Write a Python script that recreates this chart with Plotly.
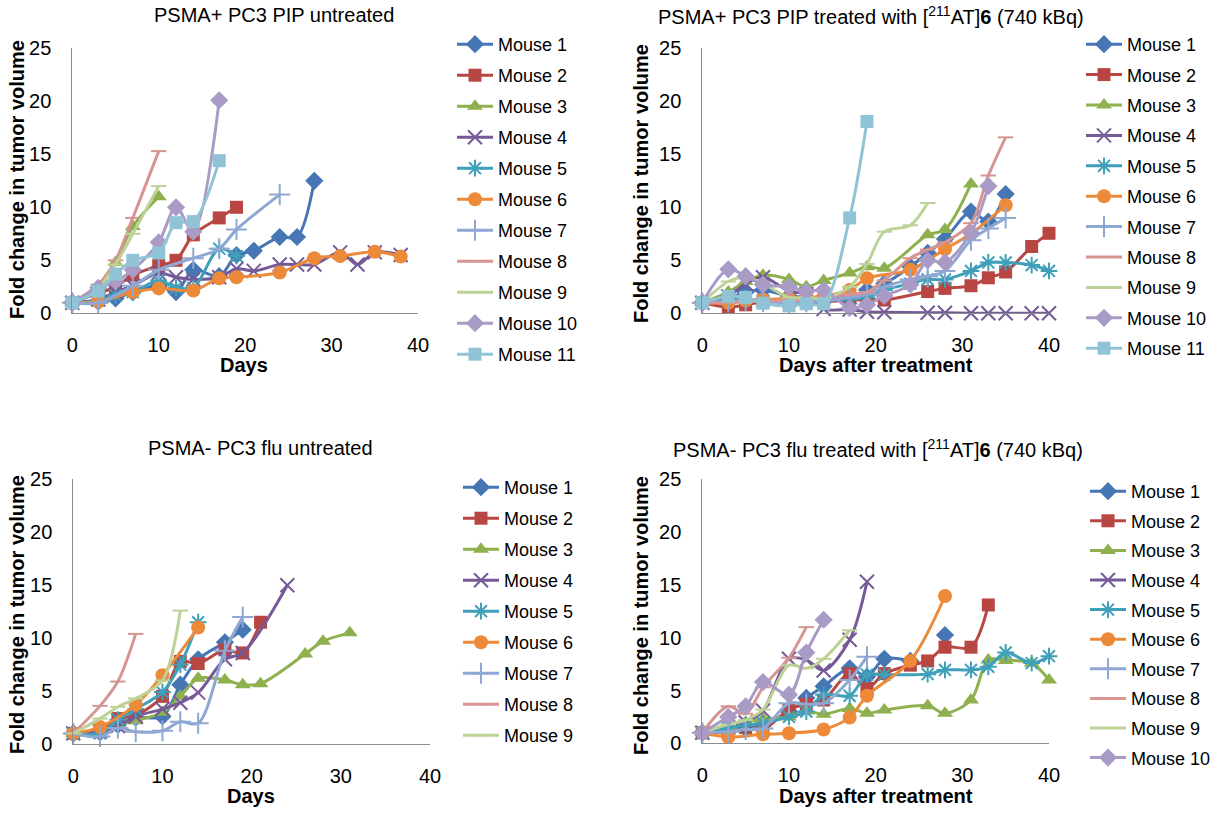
import plotly.graph_objects as go

# ---------------- data ----------------
MICE = ["Mouse 1", "Mouse 2", "Mouse 3", "Mouse 4", "Mouse 5", "Mouse 6",
        "Mouse 7", "Mouse 8", "Mouse 9", "Mouse 10", "Mouse 11"]

TITLES = ["PSMA+ PC3 PIP untreated",
          "PSMA+ PC3 PIP treated with [<sup>211</sup>AT]<b>6</b> (740 kBq)",
          "PSMA- PC3 flu untreated",
          "PSMA- PC3 flu treated with [<sup>211</sup>AT]<b>6</b> (740 kBq)"]
XTITLES = ["Days", "Days after treatment", "Days", "Days after treatment"]
YTITLE = "Fold change in tumor volume"
X_TICKS = [0, 10, 20, 30, 40]
Y_TICKS = [0, 5, 10, 15, 20, 25]

# Panel 1: PSMA+ PC3 PIP untreated
P1_DAYS = {
    "Mouse 1": [0, 3, 5, 7, 10, 12, 14, 17, 19, 21, 24, 26, 28],
    "Mouse 2": [0, 3, 5, 7, 10, 12, 14, 17, 19],
    "Mouse 3": [0, 3, 5, 7, 10],
    "Mouse 4": [0, 3, 5, 7, 10, 12, 14, 17, 19, 21, 24, 26, 28, 31, 33, 35, 38],
    "Mouse 5": [0, 3, 5, 7, 10, 12, 14, 17, 19],
    "Mouse 6": [0, 3, 7, 10, 14, 17, 19, 24, 28, 31, 35, 38],
    "Mouse 7": [0, 3, 7, 10, 14, 17, 19, 24],
    "Mouse 8": [0, 3, 5, 7, 10],
    "Mouse 9": [0, 3, 5, 7, 10],
    "Mouse 10": [0, 3, 5, 7, 10, 12, 14, 17],
    "Mouse 11": [0, 3, 5, 7, 10, 12, 14, 17],
}
P1_VALS = {
    "Mouse 1": [1, 1.1, 1.4, 2.0, 2.6, 2.0, 4.1, 3.5, 5.5, 5.9, 7.2, 7.2, 12.5],
    "Mouse 2": [1, 1.9, 2.5, 3.6, 4.5, 5.0, 7.4, 9.0, 10.0],
    "Mouse 3": [1, 2.3, 4.8, 8.2, 11.0],
    "Mouse 4": [1, 1.3, 2.0, 2.6, 3.8, 3.4, 3.2, 3.4, 4.2, 4.0, 4.6, 4.6, 4.6, 5.75, 4.6, 5.75, 5.5],
    "Mouse 5": [1, 1.2, 1.7, 2.0, 3.1, 2.4, 2.4, 6.1, 5.4],
    "Mouse 6": [1, 1.1, 2.0, 2.35, 2.15, 3.3, 3.4, 3.85, 5.2, 5.4, 5.8, 5.35],
    "Mouse 7": [1, 1.0, 2.6, 4.1, 5.2, 6.1, 7.9, 11.2],
    "Mouse 8": [1, 2.7, 5.0, 9.0, 15.3],
    "Mouse 9": [1, 2.4, 4.6, 7.5, 12.0],
    "Mouse 10": [1, 2.4, 3.0, 4.1, 6.7, 10.0, 7.7, 20.1],
    "Mouse 11": [1, 2.1, 3.7, 5.0, 5.7, 8.55, 8.65, 14.4],
}

# Panel 2: PSMA+ PC3 PIP treated
P2_DAYS = {
    "Mouse 1": [0, 3, 5, 7, 10, 12, 14, 17, 19, 21, 24, 26, 28, 31, 33, 35],
    "Mouse 2": [0, 3, 5, 7, 10, 12, 14, 17, 19, 21, 26, 28, 31, 33, 35, 38, 40],
    "Mouse 3": [0, 3, 5, 7, 10, 12, 14, 17, 19, 21, 26, 28, 31],
    "Mouse 4": [0, 3, 5, 7, 10, 12, 14, 17, 19, 21, 26, 28, 31, 33, 35, 38, 40],
    "Mouse 5": [0, 3, 5, 7, 10, 12, 14, 17, 19, 21, 24, 26, 28, 31, 33, 35, 38, 40],
    "Mouse 6": [0, 3, 5, 7, 10, 12, 14, 17, 19, 24, 28, 31, 35],
    "Mouse 7": [0, 3, 5, 7, 10, 12, 14, 17, 19, 21, 24, 26, 28, 31, 33, 35],
    "Mouse 8": [0, 3, 5, 7, 10, 12, 14, 17, 19, 21, 24, 26, 28, 31, 33, 35],
    "Mouse 9": [0, 3, 5, 7, 10, 12, 14, 17, 19, 21, 24, 26],
    "Mouse 10": [0, 3, 5, 7, 10, 12, 14, 17, 19, 21, 24, 26, 28, 31, 33],
    "Mouse 11": [0, 3, 5, 7, 10, 12, 14, 17, 19],
}
P2_VALS = {
    "Mouse 1": [1, 1.4, 2.0, 2.2, 1.6, 1.5, 1.5, 1.5, 2.2, 2.8, 4.4, 5.7, 7.0, 9.6, 8.65, 11.25],
    "Mouse 2": [1, 0.6, 0.8, 1.1, 1.1, 1.0, 1.1, 1.2, 1.3, 1.25, 2.05, 2.35, 2.6, 3.35, 3.9, 6.3, 7.55],
    "Mouse 3": [1, 2.0, 3.0, 3.6, 3.2, 2.5, 3.1, 3.8, 4.4, 4.25, 7.4, 7.9, 12.2],
    "Mouse 4": [1, 1.6, 2.8, 3.4, 2.1, 1.8, 0.4, 0.35, 0.15, 0.1, 0.05, 0.05, 0, 0, 0, 0, 0],
    "Mouse 5": [1, 1.2, 1.3, 1.2, 1.1, 1.1, 1.2, 1.3, 1.5, 2.2, 2.8, 3.2, 3.2, 4.0, 4.8, 4.8, 4.55, 4.0],
    "Mouse 6": [1, 1.0, 1.2, 1.3, 1.4, 1.5, 1.6, 2.2, 3.3, 4.1, 6.05, 7.5, 10.2],
    "Mouse 7": [1, 1.1, 1.2, 1.1, 1.0, 1.1, 1.2, 1.5, 1.8, 2.5, 3.2, 3.5, 4.0, 6.9, 8.0, 9.0],
    "Mouse 8": [1, 1.0, 1.1, 1.2, 1.2, 1.3, 1.5, 1.8, 2.0, 3.1, 5.2, 6.0, 6.7, 8.5, 13.0, 16.6],
    "Mouse 9": [1, 3.0, 3.4, 2.8, 1.5, 1.5, 1.4, 2.5, 4.65, 7.7, 8.3, 10.4],
    "Mouse 10": [1, 4.15, 3.5, 2.7, 2.5, 2.05, 2.2, 0.5, 0.8, 1.65, 2.7, 5.0, 4.8, 7.6, 12.0],
    "Mouse 11": [1, 1.6, 1.5, 0.95, 0.7, 0.9, 0.9, 9.0, 18.1],
}

# Panel 3: PSMA- PC3 flu untreated
P3_DAYS = {
    "Mouse 1": [0, 3, 5, 7, 10, 12, 14, 17, 19],
    "Mouse 2": [0, 3, 5, 7, 10, 12, 14, 17, 19, 21],
    "Mouse 3": [0, 3, 5, 7, 10, 12, 14, 17, 19, 21, 26, 28, 31],
    "Mouse 4": [0, 3, 5, 7, 10, 12, 14, 17, 19, 24],
    "Mouse 5": [0, 3, 5, 7, 10, 12, 14],
    "Mouse 6": [0, 3, 7, 10, 14],
    "Mouse 7": [0, 3, 5, 7, 10, 12, 14, 17, 19],
    "Mouse 8": [0, 3, 5, 7],
    "Mouse 9": [0, 3, 5, 7, 10, 12],
}
P3_VALS = {
    "Mouse 1": [1, 1.1, 1.8, 2.5, 2.6, 5.6, 8.0, 9.6, 10.8],
    "Mouse 2": [1, 1.4, 2.4, 2.7, 4.5, 7.8, 7.6, 8.9, 8.6, 11.5],
    "Mouse 3": [1, 1.2, 1.8, 2.2, 3.0, 4.5, 6.2, 6.05, 5.6, 5.7, 8.5, 9.7, 10.5],
    "Mouse 4": [1, 1.2, 1.7, 2.6, 3.3, 3.9, 4.85, 8.0, 8.6, 15.0],
    "Mouse 5": [1, 1.0, 2.3, 3.3, 4.9, 7.5, 11.5],
    "Mouse 6": [1, 1.6, 3.7, 6.5, 11.0],
    "Mouse 7": [1, 0.7, 1.5, 1.15, 1.25, 2.1, 1.95, 8.8, 12.0],
    "Mouse 8": [1, 3.6, 5.9, 10.4],
    "Mouse 9": [1, 2.4, 3.5, 4.3, 6.0, 12.6],
}

# Panel 4: PSMA- PC3 flu treated
P4_DAYS = {
    "Mouse 1": [0, 3, 5, 7, 10, 12, 14, 17, 19, 21, 24, 26, 28],
    "Mouse 2": [0, 3, 5, 7, 10, 12, 14, 17, 19, 21, 24, 26, 28, 31, 33],
    "Mouse 3": [0, 3, 5, 7, 10, 12, 14, 17, 19, 21, 26, 28, 31, 33, 35, 38, 40],
    "Mouse 4": [0, 3, 5, 7, 10, 12, 14, 17, 19],
    "Mouse 5": [0, 3, 5, 7, 10, 12, 14, 17, 19, 21, 26, 28, 31, 33, 35, 38, 40],
    "Mouse 6": [0, 3, 7, 10, 14, 17, 19, 24, 28],
    "Mouse 7": [0, 3, 5, 7, 10, 12, 14, 17, 19],
    "Mouse 8": [0, 3, 5, 7, 10, 12],
    "Mouse 9": [0, 3, 5, 7, 10, 12, 14, 17],
    "Mouse 10": [0, 3, 5, 7, 10, 12, 14],
}
P4_VALS = {
    "Mouse 1": [1, 1.4, 1.4, 1.7, 3.0, 4.3, 5.4, 7.1, 6.3, 8.0, 7.8, None, 10.25],
    "Mouse 2": [1, 1.1, 1.5, 1.3, 3.2, 3.7, 4.1, 6.6, 5.2, 6.6, 7.4, 7.8, 9.1, 9.1, 13.1],
    "Mouse 3": [1, 1.5, 2.0, 2.3, 2.5, 3.05, 2.75, 3.3, 2.85, 3.15, 3.55, 2.85, 4.1, 7.9, 7.85, 7.6, 6.0],
    "Mouse 4": [1, 1.5, 2.0, 3.1, 8.0, 7.9, 6.9, 9.8, 15.3],
    "Mouse 5": [1, 1.5, 1.7, 1.9, 2.5, 3.0, 4.6, 4.5, 6.5, 6.5, 6.55, 6.95, 6.95, 7.25, 8.6, 7.6, 8.25],
    "Mouse 6": [1, 0.6, 0.85, 0.95, 1.3, 2.45, 4.5, 7.8, 13.95],
    "Mouse 7": [1, 1.1, 1.3, 1.4, 3.8, 3.7, 3.8, 6.0, 8.2],
    "Mouse 8": [1, 3.5, 2.8, 5.3, 8.1, 11.0],
    "Mouse 9": [1, 1.8, 2.2, 3.2, 7.4, 7.1, 8.0, 10.7],
    "Mouse 10": [1, 2.5, 3.5, 5.8, 4.6, 8.6, 11.7],
}

PANELS = [(P1_DAYS, P1_VALS), (P2_DAYS, P2_VALS), (P3_DAYS, P3_VALS), (P4_DAYS, P4_VALS)]

# ---------------- styles ----------------
COLORS = {
    "Mouse 1": "#4676B4", "Mouse 2": "#B84643", "Mouse 3": "#8FB04E",
    "Mouse 4": "#765A98", "Mouse 5": "#3FA0BA", "Mouse 6": "#EC8A3A",
    "Mouse 7": "#8EA8D3", "Mouse 8": "#D69593", "Mouse 9": "#BCD297",
    "Mouse 10": "#A99BC6", "Mouse 11": "#90C3D6",
}
SYMBOLS = {
    "Mouse 1": "diamond", "Mouse 2": "square", "Mouse 3": "triangle-up",
    "Mouse 4": "x-thin-open", "Mouse 5": "asterisk-open", "Mouse 6": "circle",
    "Mouse 7": "cross-thin-open", "Mouse 8": "line-ew-open", "Mouse 9": "line-ew-open",
    "Mouse 10": "diamond", "Mouse 11": "square",
}
SIZES = {
    "Mouse 1": 14, "Mouse 2": 13, "Mouse 3": 14, "Mouse 4": 14, "Mouse 5": 14,
    "Mouse 6": 14, "Mouse 7": 15, "Mouse 8": 11, "Mouse 9": 11, "Mouse 10": 14,
    "Mouse 11": 13,
}
OPEN = {"Mouse 4", "Mouse 5", "Mouse 7", "Mouse 8", "Mouse 9"}

W, H = 1225, 815
FONT = "Liberation Sans, Arial, sans-serif"

# plot-area pixel boxes: (left, right, bottom, top)
BOXES = [(72.3, 418, 313.3, 48.3), (702.3, 1049, 313.3, 48.3),
         (73.3, 430, 744, 479.3), (702.3, 1049, 743.3, 479.3)]
LEG_POS = [(452, 26, 4.6), (1081, 26, 4.0), (458, 469, 4.6), (1085, 473, 3.2)]
TITLE_POS = [(274, 15), (871, 15), (260, 448), (878, 448)]
XT_POS = [(244, 365), (876, 365), (251, 796), (876, 796)]
YT_POS = [(17, 180), (641, 183), (17, 615), (641, 615)]

fig = go.Figure()
layout = dict(width=W, height=H, margin=dict(l=0, r=0, t=0, b=0, autoexpand=False),
              paper_bgcolor="white", plot_bgcolor="white",
              font=dict(family=FONT, color="#000000"), annotations=[])

for i, (days, vals) in enumerate(PANELS):
    n = "" if i == 0 else str(i + 1)
    leg = "legend" + n
    for m in days:
        open_sym = m in OPEN
        fig.add_trace(go.Scatter(
            x=days[m], y=vals[m], name=m, mode="lines+markers",
            xaxis="x" + n, yaxis="y" + n, legend=leg, legendgroup=f"{i}-{m}",
            line=dict(color=COLORS[m], width=3, shape="spline", smoothing=0.9),
            marker=dict(symbol=SYMBOLS[m], size=SIZES[m], color=COLORS[m],
                        line=dict(color=COLORS[m], width=2 if open_sym else 0)),
            cliponaxis=False, connectgaps=False,
        ))
    l, r, b, t = BOXES[i]
    common_axis = dict(showgrid=False, zeroline=False, showline=True,
                       linecolor="#8C8C8C", linewidth=1, ticks="outside",
                       tickcolor="rgba(0,0,0,0)", automargin=False,
                       tickfont=dict(size=20, family=FONT, color="#000"))
    layout["xaxis" + n] = dict(common_axis, domain=[l / W, r / W], range=[0, 40],
                               tickvals=X_TICKS, ticklen=14, anchor="y" + n)
    layout["yaxis" + n] = dict(common_axis, domain=[1 - b / H, 1 - t / H], range=[0, 25],
                               tickvals=Y_TICKS, ticklen=16, anchor="x" + n)
    lx, ly, gap = LEG_POS[i]
    layout[leg] = dict(x=lx / W, y=1 - ly / H, xanchor="left", yanchor="top",
                       bgcolor="rgba(0,0,0,0)", tracegroupgap=gap,
                       font=dict(size=18, family=FONT, color="#000"),
                       itemwidth=36)
    tx, ty = TITLE_POS[i]
    layout["annotations"].append(dict(text=TITLES[i], x=tx / W, y=1 - ty / H,
                                      xref="paper", yref="paper", showarrow=False,
                                      xanchor="center", yanchor="middle",
                                      font=dict(size=20, family=FONT, color="#000")))
    xx, xy = XT_POS[i]
    layout["annotations"].append(dict(text="<b>" + XTITLES[i] + "</b>", x=xx / W, y=1 - xy / H,
                                      xref="paper", yref="paper", showarrow=False,
                                      xanchor="center", yanchor="middle",
                                      font=dict(size=20, family=FONT, color="#000")))
    yx, yy = YT_POS[i]
    layout["annotations"].append(dict(text="<b>" + YTITLE + "</b>", x=yx / W, y=1 - yy / H,
                                      xref="paper", yref="paper", showarrow=False,
                                      textangle=-90, xanchor="center", yanchor="middle",
                                      font=dict(size=20, family=FONT, color="#000")))

fig.update_layout(**layout)
fig.write_html("out.html", config={"displayModeBar": False},
               post_script="document.body.style.margin='0';document.body.style.padding='0';")
